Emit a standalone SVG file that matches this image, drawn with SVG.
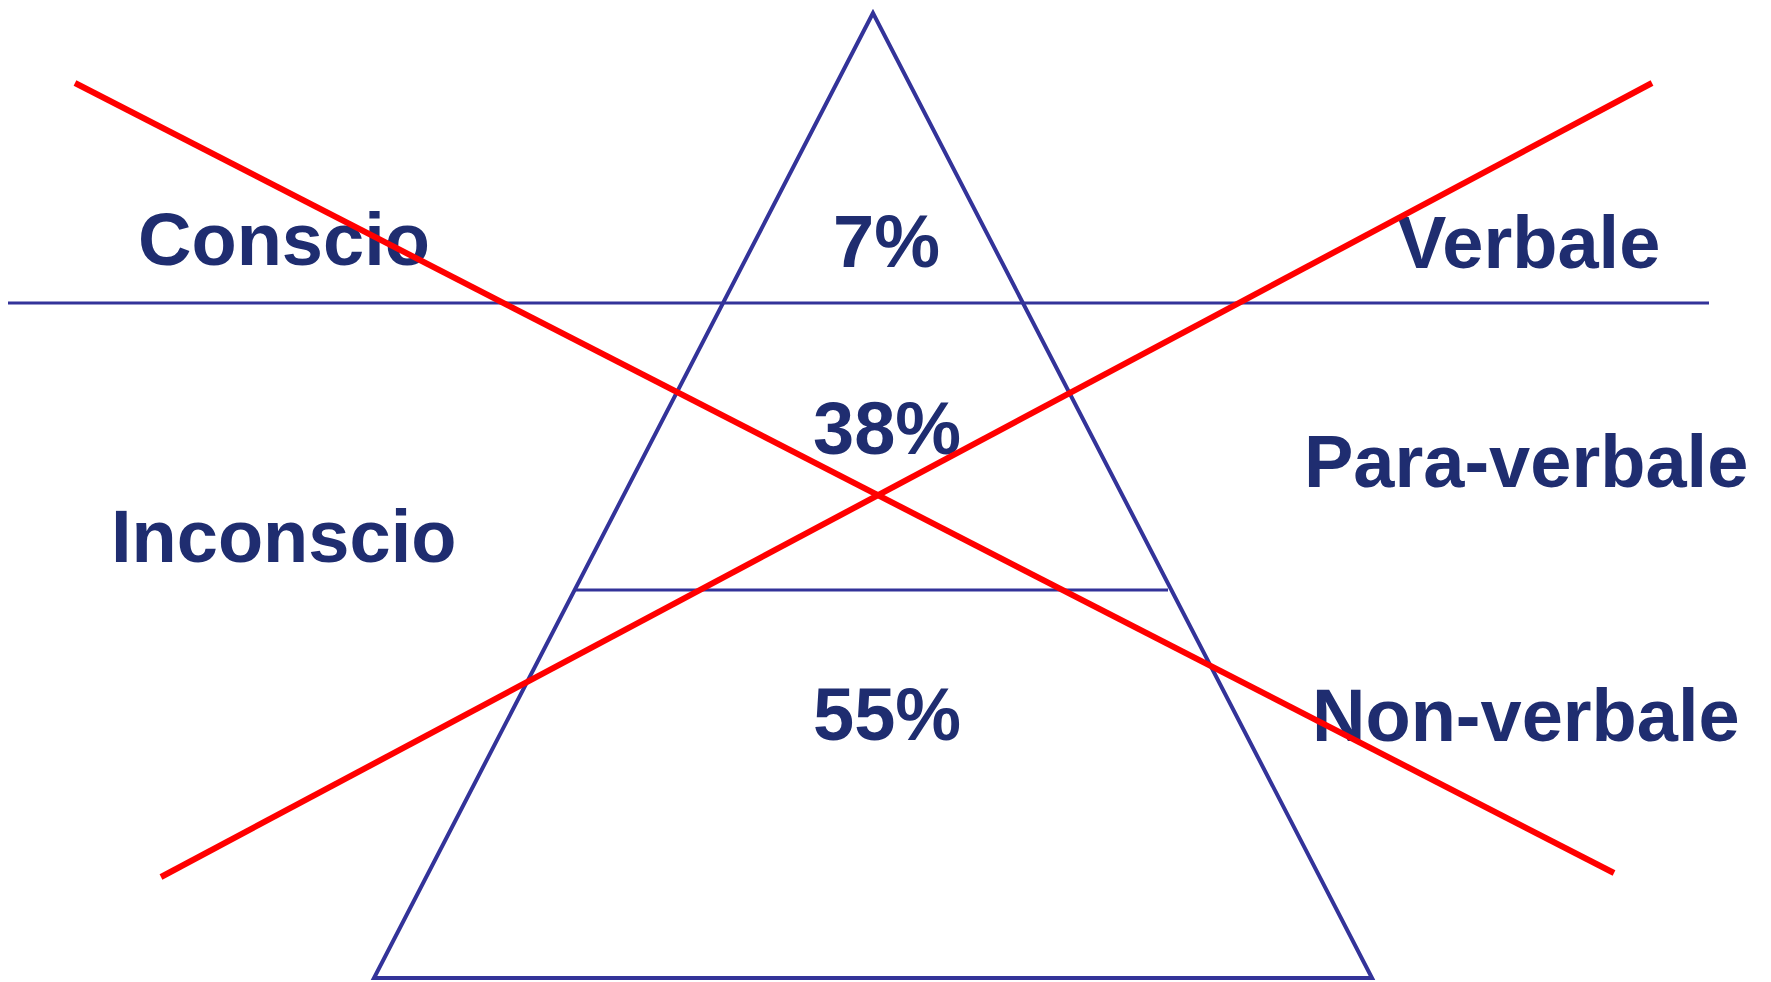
<svg xmlns="http://www.w3.org/2000/svg" width="1771" height="982" viewBox="0 0 1771 982">
<style>
.lbl{font-family:"Liberation Sans",Arial,sans-serif;font-weight:bold;font-size:74px;fill:#1F2D70}
.blue{stroke:#333399;fill:none}
.red{stroke:#FF0000;stroke-width:6;fill:none}
</style>
<rect width="1771" height="982" fill="#FFFFFF"/>
<g id="pyramid">
<polygon class="blue" stroke-width="4" points="873,13 374,978 1372,978"/>
<line class="blue" stroke-width="3" x1="8" y1="303" x2="1709" y2="303"/>
<line class="blue" stroke-width="3" x1="576" y1="590" x2="1168" y2="590"/>
</g>
<g id="labels">
<text class="lbl" x="138" y="265">Conscio</text>
<text class="lbl" x="833" y="267">7%</text>
<text class="lbl" x="1397" y="268">Verbale</text>
<text class="lbl" x="813" y="454">38%</text>
<text class="lbl" x="1304" y="487">Para-verbale</text>
<text class="lbl" x="111" y="562">Inconscio</text>
<text class="lbl" x="813" y="740">55%</text>
<text class="lbl" x="1312" y="741">Non-verbale</text>
</g>
<g id="connectors">
<line class="red" x1="75" y1="83" x2="1614" y2="873"/>
<line class="red" x1="161" y1="877" x2="1652" y2="83"/>
</g>
</svg>
